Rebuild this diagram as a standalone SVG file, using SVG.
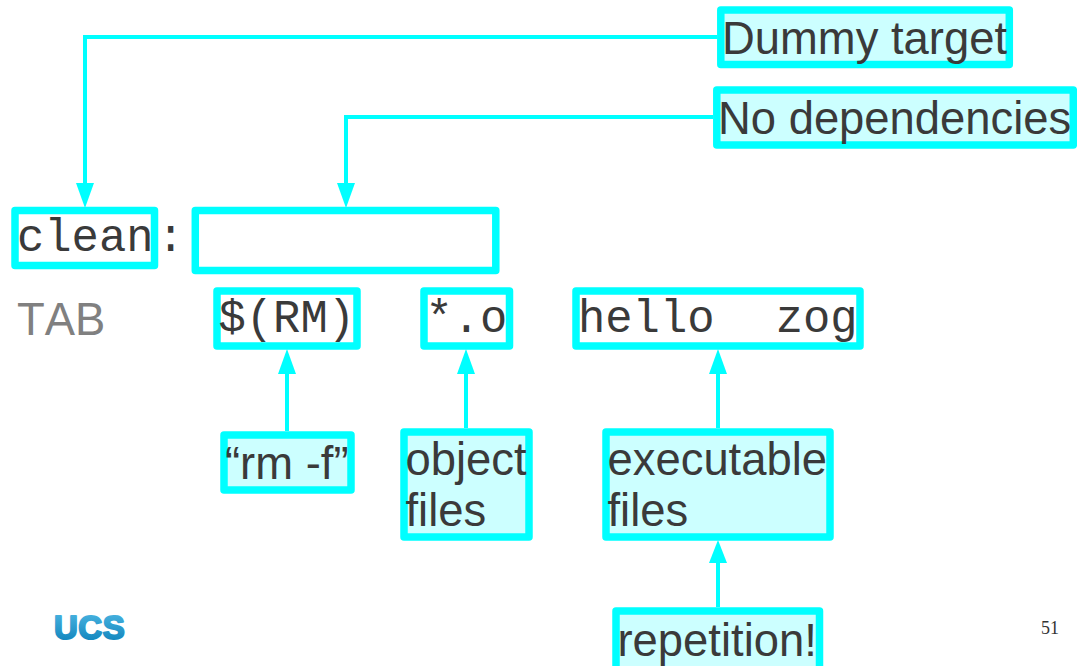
<svg xmlns="http://www.w3.org/2000/svg" width="1077" height="666" viewBox="0 0 1077 666">
<style>
.b{stroke:#00ffff;stroke-width:7.5;stroke-linejoin:round}
.f{fill:#ccffff}.n{fill:#ffffff}
.t{font-family:"Liberation Sans",Arial,sans-serif;font-size:45.4px;fill:#3a3a3a;font-kerning:none}
.m{font-family:"Liberation Mono","Courier New",monospace;font-size:45.5px;fill:#3a3a3a}
.c{fill:none;stroke:#00ffff;stroke-width:4}
.h{fill:#00ffff}
</style>
<defs>
<linearGradient id="g" x1="0" y1="0" x2="0" y2="1"><stop offset="0" stop-color="#4fb8e4"/><stop offset="1" stop-color="#0a7fb8"/></linearGradient>
</defs>
<g id="connectors">
<path class="c" d="M717 37H85V190"/><polygon class="h" points="76,183 94,183 85,208"/>
<path class="c" d="M713 117H346V190"/><polygon class="h" points="337,183 355,183 346,208"/>
<path class="c" d="M287 431V365"/><polygon class="h" points="278,374 296,374 287,349"/>
<path class="c" d="M466 428V365"/><polygon class="h" points="457,374 475,374 466,349"/>
<path class="c" d="M718 428V365"/><polygon class="h" points="709,374 727,374 718,349"/>
<path class="c" d="M718 607V555"/><polygon class="h" points="709,563 727,563 718,540"/>
</g>
<g id="dummy"><rect class="b f" x="720.800" y="10" width="288.500" height="54.500"/><text class="t" x="722" y="54">Dummy target</text></g>
<g id="nodeps"><rect class="b f" x="716.800" y="90" width="356.500" height="55"/><text class="t" x="718" y="134">No dependencies</text></g>
<g id="clean"><rect class="b n" x="15" y="210.500" width="139.500" height="55"/><text class="m" x="17" y="251">clean</text></g>
<text class="m" x="157" y="251">:</text>
<g id="empty"><rect class="b n" x="195.300" y="210.500" width="300.500" height="60"/></g>
<text x="17" y="335" style="font-family:'Liberation Sans',Arial,sans-serif;font-size:45.4px;fill:#808080;font-kerning:none">TAB</text>
<g id="rm"><rect class="b n" x="217" y="291" width="140" height="55"/><text class="m" x="218.500" y="332">$(RM)</text></g>
<g id="objs"><rect class="b n" x="424" y="291" width="85.500" height="55"/><text class="m" x="425.500" y="332">*.o</text></g>
<g id="exes"><rect class="b n" x="576" y="291" width="284" height="55"/><text class="m" x="578" y="332" xml:space="preserve" style="white-space:pre;word-spacing:3.3px">hello  zog</text></g>
<g id="rmf"><rect class="b f" x="224" y="435" width="127" height="55"/><text class="t" x="225" y="479">“rm -f”</text></g>
<g id="objfiles"><rect class="b f" x="404" y="432" width="125" height="105"/><text class="t" x="405.500" y="475">object</text><text class="t" x="405.500" y="526">files</text></g>
<g id="exefiles"><rect class="b f" x="606" y="432" width="224" height="105"/><text class="t" x="607.500" y="475">executable</text><text class="t" x="607.500" y="526">files</text></g>
<g id="repetition"><rect class="b f" x="616" y="611" width="203.500" height="60"/><text class="t" x="617.500" y="656">repetition!</text></g>
<text x="54" y="639" style="font-family:'Liberation Sans',Arial,sans-serif;font-size:33px;font-weight:bold;fill:url(#g);stroke:url(#g);stroke-width:2;stroke-linejoin:round;letter-spacing:0.500px">UCS</text>
<text x="1041" y="634" style="font-family:'Liberation Serif','Times New Roman',serif;font-size:18px;fill:#333333">51</text>
</svg>
